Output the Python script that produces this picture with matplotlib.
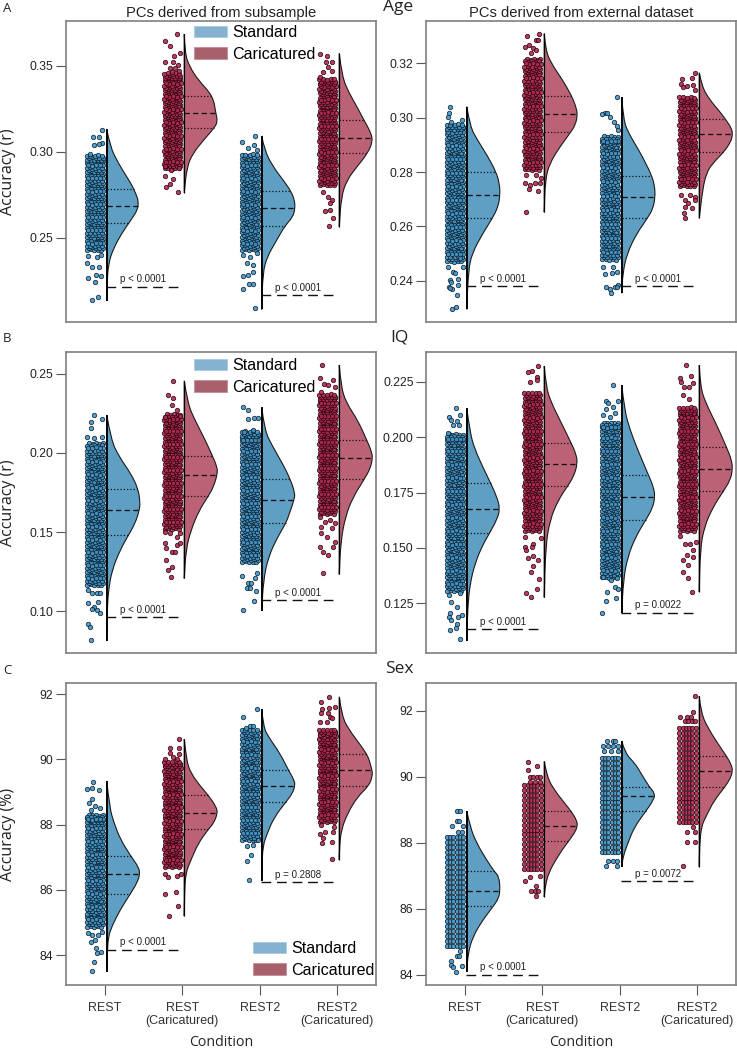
import numpy as np
import matplotlib
matplotlib.use("Agg")
import matplotlib.pyplot as plt
from matplotlib.patches import Patch, PathPatch
from matplotlib.path import Path

plt.rcParams["font.family"] = ["Liberation Sans", "DejaVu Sans"]

conditions = ["REST", "REST\n(Caricatured)", "REST2", "REST2\n(Caricatured)"]

# ------------------------------------------------------------
# Values, one list per condition
#   *_dens_y / *_dens_w : outline of the half violin (value, share of peak)
#   *_q                 : lower quartile, median, upper quartile
#   *_core              : levels of the packed part of the point cloud
#   *_out               : single points (place across the cloud, value)
# ------------------------------------------------------------

# Age, PCs from subsample
age_sub_dens_y = [
    [.3131, .3030, .2933, .2855, .2781, .2684, .2587, .2525, .2437, .2350, .2233, .2132],
    [.3685, .3574, .3496, .3418, .3325, .3224, .3176, .3139, .3069, .2991, .2913, .2762],
    [.3092, .3010, .2913, .2836, .2770, .2719, .2674, .2622, .2568, .2486, .2389, .2292, .2082],
    [.3574, .3438, .3341, .3263, .3185, .3108, .3059, .2991, .2913, .2836, .2739, .2564],
]
age_sub_dens_w = [
    [0, .1, .35, .6, .83, 1, .67, .45, .2, .05, .01, 0],
    [0, .02, .16, .42, .86, .95, 1, .9, .58, .26, .08, 0],
    [0, .08, .34, .64, .88, .98, 1, .94, .69, .45, .16, .03, 0],
    [0, .08, .3, .53, .74, .96, 1, .85, .53, .23, .06, 0],
]
age_sub_q = [[.2587, .2684, .2781], [.3139, .3224, .3325], [.2568, .2674, .2770], [.2991, .3078, .3185]]
age_sub_core = [
    [.2441, .2480, .2516, .2557, .2593, .2633, .2668, .2708, .2744, .2784, .2820, .2860, .2896, .2934, .2965],
    [.2918, .2955, .2995, .3031, .3071, .3107, .3146, .3183, .3222, .3259, .3298, .3335, .3373, .3410, .3443],
    [.2443, .2479, .2519, .2555, .2595, .2630, .2670, .2706, .2746, .2782, .2822, .2858, .2898, .2935, .2971],
    [.2820, .2857, .2897, .2934, .2973, .3010, .3050, .3087, .3126, .3163, .3203, .3240, .3279, .3316, .3356, .3393, .3410],
]
age_sub_out = [
    [(.92, .3127), (.35, .3084), (.73, .3088), (.92, .3053), (.44, .3040), (.75, .3045), (.19, .2987),
     (.08, .2393), (.6, .2385), (.88, .2399), (.02, .2350), (.3, .2327), (.75, .2331), (.08, .2263),
     (.54, .2282), (.85, .2276), (.5, .2243), (.3, .2138), (.71, .2152)],
    [(.79, .3686), (.02, .3646), (.33, .3618), (.58, .3558), (.96, .3574), (.06, .3525), (.33, .3486),
     (.54, .3525), (.85, .3506), (.65, .3486), (.92, .3473), (.44, .3467),
     (.06, .2919), (.38, .2894), (.92, .2904), (.02, .2859), (.5, .2841), (.33, .2812), (.12, .2795), (.85, .2766)],
    [(.02, .3059), (.35, .3020), (.81, .3092), (.77, .3038), (.92, .3011), (.08, .2399), (.5, .2389),
     (.92, .2408), (.29, .2350), (.71, .2340), (.08, .2278), (.4, .2282), (.65, .2301), (.46, .2233),
     (.08, .2202), (.71, .2230), (.81, .2088)],
    [(.02, .3570), (.48, .3560), (.4, .3525), (.75, .3521), (.54, .3496), (.75, .3473), (.23, .3467), (.06, .3438),
     (.54, .2739), (.75, .2719), (.65, .2700), (.33, .2657), (.65, .2661), (.81, .2612), (.58, .2568), (.23, .2768)],
]

# Age, PCs from external dataset
age_ext_dens_y = [
    [.3041, .2967, .2918, .2856, .2800, .2758, .2717, .2672, .2630, .2574, .2501, .2439, .2295],
    [.3310, .3249, .3200, .3139, .3081, .3041, .3010, .2973, .2946, .2893, .2832, .2771, .2652],
    [.3075, .2991, .2942, .2881, .2832, .2787, .2746, .2708, .2666, .2630, .2574, .2501, .2427, .2354],
    [.3166, .3114, .3065, .3028, .2994, .2961, .2939, .2912, .2874, .2832, .2795, .2734, .2630],
]
age_ext_dens_w = [
    [0, .1, .32, .64, .88, .98, 1, .94, .77, .48, .16, .05, 0],
    [0, .04, .21, .55, .82, .95, 1, .93, .79, .47, .16, .03, 0],
    [0, .05, .21, .51, .72, .9, .99, 1, .94, .77, .45, .16, .03, 0],
    [0, .08, .32, .58, .79, .97, 1, .95, .74, .4, .21, .1, 0],
]
age_ext_q = [[.2630, .2717, .2800], [.2946, .3012, .3081], [.2630, .2708, .2787], [.2874, .2939, .2994]]
age_ext_core = [
    [.2480, .2506, .2530, .2556, .2581, .2605, .2631, .2656, .2681, .2705, .2731, .2755, .2781, .2805, .2831, .2856, .2880, .2906, .2931, .2955, .2966],
    [.2818, .2844, .2870, .2895, .2921, .2947, .2973, .2998, .3025, .3050, .3077, .3102, .3128, .3155, .3181, .3207],
    [.2487, .2513, .2539, .2565, .2590, .2617, .2642, .2669, .2694, .2721, .2746, .2773, .2798, .2825, .2850, .2877, .2902, .2922],
    [.2757, .2783, .2809, .2835, .2860, .2887, .2912, .2939, .2964, .2991, .3016, .3043, .3067],
]
age_ext_out = [
    [(.19, .3041), (.12, .3016), (.08, .3001), (.94, .2991), (.23, .2985), (.08, .2452), (.79, .2482), (.38, .2433),
     (.96, .2452), (.17, .2403), (.27, .2396), (.69, .2405), (.12, .2378), (.69, .2384), (.33, .2368), (.17, .2372),
     (.62, .2347), (.31, .2295), (.58, .2302), (.48, .2427)],
    [(.17, .3301), (.92, .3308), (.69, .3288), (.85, .3288), (.02, .3261), (.27, .3267), (.54, .3255), (.71, .3249),
     (.4, .3239), (.12, .2789), (.69, .2789), (1, .2777), (.02, .2758), (.33, .2752), (.96, .2758), (.65, .2758),
     (.27, .2736), (.85, .2731), (.08, .2654)],
    [(.92, .3075), (.17, .3018), (.31, .3016), (.02, .3014), (.48, .3001), (.75, .2985), (.9, .2969), (1, .2955),
     (.06, .2452), (.69, .2452), (.17, .2425), (.94, .2433), (.62, .2427), (.23, .2376), (.52, .2368), (.79, .2378),
     (1, .2384), (.56, .2353), (.9, .2376)],
    [(.17, .3141), (.96, .3166), (.12, .3126), (.75, .3148), (.85, .3120), (.44, .3117), (.96, .3102), (.23, .3112),
     (.12, .2715), (.65, .2715), (.96, .2710), (.33, .2697), (.96, .2697), (.54, .2685), (.33, .2672), (.75, .2666),
     (.27, .2648), (.33, .2630)],
]

# IQ, PCs from subsample
iq_sub_dens_y = [
    [.2239, .2081, .1976, .1871, .1774, .1692, .1639, .1555, .1484, .1387, .1261, .1134, .0987, .0814],
    [.2456, .2313, .2207, .2102, .1980, .1913, .1871, .1787, .1730, .1639, .1513, .1387, .1208],
    [.2287, .2144, .2039, .1934, .1837, .1745, .1705, .1629, .1559, .1471, .1345, .1197, .1004],
    [.2555, .2418, .2313, .2208, .2079, .2008, .1965, .1902, .1833, .1724, .1597, .1429, .1233],
]
iq_sub_dens_w = [
    [0, .13, .37, .72, .94, 1, .98, .85, .66, .4, .16, .05, .01, 0],
    [0, .1, .32, .58, .85, .98, 1, .88, .73, .45, .2, .05, 0],
    [0, .08, .33, .62, .85, 1, .97, .85, .73, .48, .2, .05, 0],
    [0, .05, .22, .55, .83, .97, 1, .93, .75, .42, .18, .04, 0],
]
iq_sub_q = [[.1484, .1639, .1774], [.1730, .1860, .1980], [.1559, .1705, .1837], [.1833, .1965, .2079]]
iq_sub_core = [
    [.1180, .1222, .1263, .1304, .1344, .1386, .1427, .1468, .1508, .1550, .1591, .1632, .1672, .1714, .1755, .1796, .1836, .1878, .1919, .1960, .2000, .2046],
    [.1536, .1578, .1619, .1660, .1700, .1742, .1783, .1824, .1864, .1906, .1947, .1988, .2028, .2070, .2111, .2152, .2192, .2227],
    [.1326, .1368, .1409, .1450, .1490, .1532, .1573, .1614, .1654, .1696, .1737, .1778, .1818, .1860, .1901, .1942, .1982, .2024, .2065, .2095, .2121],
    [.1631, .1673, .1714, .1755, .1795, .1837, .1878, .1919, .1959, .2001, .2042, .2083, .2123, .2165, .2206, .2247, .2287, .2329, .2353],
]
iq_sub_out = [
    [(.46, .2239), (.92, .2216), (.23, .2193), (.25, .2155), (.02, .2102), (.46, .2092), (.92, .2098), (.06, .1134),
     (.29, .1113), (.6, .1113), (.81, .1113), (.08, .1054), (.67, .1061), (.46, .1029), (.29, .1012), (.6, .1008),
     (.81, .0991), (.08, .0920), (.19, .0899), (.25, .0819)],
    [(.54, .2454), (.23, .2363), (.54, .2344), (.48, .2302), (.75, .2271), (.06, .2224), (.96, .2233), (.02, .1503),
     (.96, .1492), (.33, .1492), (.75, .1471), (.06, .1429), (.75, .1418), (.12, .1397), (.96, .1429), (.44, .1376),
     (.65, .1376), (.08, .1324), (.19, .1261), (.48, .1282), (.4, .1214)],
    [(.08, .2287), (.35, .2271), (.35, .2212), (.75, .2218), (1, .2222), (.15, .2134), (.71, .2144), (.02, .1225),
     (.92, .1239), (.4, .1176), (.54, .1176), (.81, .1208), (.29, .1145), (.88, .1130), (.5, .1145), (.75, .1067), (.04, .1008)],
    [(.15, .2555), (.06, .2471), (.29, .2433), (.54, .2429), (.81, .2460), (.96, .2418), (.12, .2386), (.06, .1593),
     (.65, .1576), (.96, .1555), (.33, .1566), (.12, .1534), (.75, .1524), (.12, .1492), (.44, .1467), (.96, .1439),
     (.02, .1408), (.85, .1404), (.23, .1376), (.5, .1355), (.23, .1239)],
]

# IQ, PCs from external dataset
iq_ext_dens_y = [
    [.2130, .2017, .1942, .1866, .1791, .1731, .1677, .1626, .1566, .1505, .1430, .1340, .1235, .1081],
    [.2321, .2227, .2152, .2062, .1975, .1926, .1881, .1821, .1779, .1716, .1626, .1505, .1277],
    [.2235, .2122, .2032, .1942, .1829, .1776, .1731, .1678, .1626, .1551, .1461, .1356, .1208],
    [.2325, .2227, .2152, .2062, .1954, .1897, .1854, .1806, .1755, .1686, .1596, .1491, .1302],
]
iq_ext_dens_w = [
    [0, .1, .25, .48, .72, .9, 1, .9, .68, .45, .25, .1, .03, 0],
    [0, .05, .22, .52, .8, .95, 1, .88, .7, .42, .17, .04, 0],
    [0, .08, .25, .48, .8, .95, 1, .92, .72, .42, .18, .05, 0],
    [0, .03, .2, .5, .82, .97, 1, .93, .72, .42, .15, .03, 0],
]
iq_ext_q = [[.1566, .1677, .1791], [.1779, .1880, .1975], [.1626, .1728, .1829], [.1755, .1854, .1954]]
iq_ext_core = [
    [.1318, .1348, .1378, .1407, .1438, .1467, .1498, .1527, .1558, .1587, .1618, .1647, .1678, .1707, .1738, .1767, .1798, .1827, .1858, .1887, .1918, .1947, .1978, .2001],
    [.1589, .1619, .1649, .1678, .1709, .1738, .1769, .1798, .1829, .1858, .1889, .1918, .1949, .1978, .2009, .2038, .2069, .2098, .2129, .2158, .2189],
    [.1378, .1408, .1438, .1467, .1498, .1527, .1558, .1587, .1618, .1647, .1678, .1707, .1738, .1767, .1798, .1827, .1858, .1887, .1918, .1947, .1978, .2007, .2038, .2054],
    [.1589, .1619, .1649, .1678, .1709, .1738, .1769, .1798, .1829, .1858, .1889, .1918, .1949, .1978, .2009, .2038, .2069, .2098, .2122],
]
iq_ext_out = [
    [(.54, .2130), (.1, .2089), (.83, .2100), (.27, .2077), (.63, .2074), (.38, .2054), (.75, .2054), (.06, .2017),
     (.12, .1287), (.79, .1295), (.23, .1257), (.63, .1235), (.17, .1205), (.1, .1190), (.69, .1190), (.94, .1197),
     (.23, .1174), (.63, .1159), (.21, .1132), (.54, .1137), (.83, .1087)],
    [(.23, .2295), (.85, .2321), (.44, .2300), (.33, .2250), (.75, .2273), (.75, .2258), (.02, .1551), (1, .1543),
     (.54, .1520), (.02, .1505), (.12, .1490), (.48, .1502), (.23, .1453), (.54, .1463), (.81, .1445), (.5, .1418),
     (.4, .1390), (.92, .1358), (.75, .1317), (.08, .1295), (.4, .1280)],
    [(.65, .2233), (.23, .2164), (1, .2163), (.38, .2152), (.69, .2137), (.23, .2125), (.06, .2100), (.79, .2108),
     (.48, .2089), (.06, .1370), (.9, .1363), (.58, .1355), (.31, .1302), (.79, .1325), (.96, .1317), (.85, .1272),
     (.23, .1262), (.02, .1205)],
    [(.4, .2325), (.06, .2265), (.71, .2277), (.12, .2247), (.6, .2227), (.85, .2242), (.27, .2227), (.23, .2190),
     (.6, .2172), (.06, .1554), (1, .1528), (.33, .1520), (.65, .1520), (.85, .1490), (.48, .1468), (.85, .1460),
     (.23, .1445), (.54, .1423), (.23, .1393), (.5, .1363), (.75, .1302)],
]

# Sex, PCs from subsample
sex_sub_dens_y = [
    [89.34, 88.55, 88.04, 87.53, 87.04, 86.71, 86.49, 86.20, 85.87, 85.39, 84.88, 84.57, 84.16, 83.50],
    [90.62, 89.98, 89.57, 89.16, 88.9, 88.55, 88.35, 88.04, 87.86, 87.43, 86.92, 86.51, 85.9, 85.2],
    [91.53, 91.0, 90.69, 90.18, 89.67, 89.37, 89.2, 88.96, 88.7, 88.24, 87.73, 87.33, 86.71, 86.29],
    [91.92, 91.31, 90.9, 90.49, 90.17, 89.98, 89.68, 89.52, 89.2, 88.86, 88.35, 87.84, 87.33, 86.92],
]
sex_sub_dens_w = [
    [0, .08, .22, .42, .72, .95, 1, .9, .7, .4, .15, .05, .02, 0],
    [0, .06, .2, .5, .72, .96, 1, .88, .72, .42, .2, .04, .01, 0],
    [0, .05, .2, .55, .8, .97, 1, .92, .73, .38, .16, .03, .01, 0],
    [0, .08, .3, .6, .82, .9, .98, 1, .9, .55, .25, .06, .01, 0],
]
sex_sub_q = [[85.87, 86.49, 87.04], [87.86, 88.35, 88.9], [88.7, 89.2, 89.67], [89.2, 89.68, 90.17]]
sex_sub_core = [
    [84.95, 85.16, 85.35, 85.56, 85.75, 85.96, 86.15, 86.36, 86.55, 86.76, 86.95, 87.16, 87.35, 87.56, 87.75, 87.96, 88.15, 88.23],
    [86.78, 86.99, 87.18, 87.39, 87.58, 87.79, 87.98, 88.19, 88.38, 88.59, 88.78, 88.99, 89.18, 89.39, 89.58, 89.79, 89.86],
    [87.6, 87.81, 88.0, 88.21, 88.4, 88.61, 88.8, 89.01, 89.2, 89.41, 89.6, 89.81, 90.0, 90.21, 90.4, 90.61, 90.83],
    [88.16, 88.37, 88.56, 88.77, 88.96, 89.17, 89.36, 89.57, 89.76, 89.97, 90.16, 90.37, 90.56, 90.77, 90.83],
]
sex_sub_out = [
    [(.4, 89.32), (.02, 89.08), (.29, 89.11), (.77, 89.06), (.33, 88.78), (.15, 88.65), (.5, 88.57), (.81, 88.5),
     (.23, 88.45), (.08, 84.67), (.29, 84.62), (.92, 84.72), (.71, 84.62), (.5, 84.47), (.23, 84.4), (.56, 84.21),
     (.6, 84.08), (.85, 84.11), (.44, 83.78), (.33, 83.51)],
    [(.9, 90.62), (.33, 90.34), (.33, 90.2), (.9, 90.34), (.9, 90.18), (.06, 90.0), (.54, 90.06), (.75, 90.01),
     (.06, 86.49), (.23, 86.39), (.75, 86.43), (1, 86.49), (.06, 85.87), (.71, 85.95), (.85, 85.52), (.27, 85.2)],
    [(.94, 91.53), (.04, 91.31), (.25, 90.95), (.5, 91.03), (.71, 91.02), (.29, 87.35), (.71, 87.38), (1, 87.53),
     (.54, 87.07), (.29, 86.9), (.46, 86.32)],
    [(.6, 91.92), (.12, 91.77), (.96, 91.61), (.17, 91.54), (.58, 91.58), (.12, 91.41), (.54, 91.43), (.65, 91.31),
     (.79, 91.26), (.06, 91.15), (.44, 91.15), (.08, 87.99), (.92, 87.94), (.02, 87.73), (.33, 87.79), (.85, 87.79),
     (.23, 87.58), (.75, 87.48), (.17, 87.45), (.79, 86.94)],
]

# Sex, PCs from external dataset (the values fall on rows here)
sex_ext_dens_y = [
    [88.96, 88.48, 87.98, 87.47, 87.14, 86.97, 86.55, 86.31, 86.08, 85.66, 85.15, 84.65, 84.09],
    [90.47, 90.0, 89.6, 89.19, 88.96, 88.69, 88.5, 88.28, 88.04, 87.58, 87.07, 86.66, 86.36],
    [91.08, 90.71, 90.4, 90.1, 89.7, 89.49, 89.29, 88.95, 88.48, 87.98, 87.58, 87.27],
    [92.44, 91.92, 91.41, 90.91, 90.62, 90.35, 90.16, 89.95, 89.7, 89.29, 88.79, 88.49, 87.88, 87.27],
]
sex_ext_dens_w = [
    [0, .1, .3, .6, .82, .97, 1, .95, .8, .48, .18, .04, 0],
    [0, .08, .3, .62, .8, .97, 1, .9, .72, .4, .12, .03, 0],
    [0, .1, .4, .58, .82, 1, .95, .72, .38, .18, .04, 0],
    [0, .05, .3, .62, .82, .97, 1, .93, .78, .45, .2, .06, .01, 0],
]
sex_ext_q = [[86.08, 86.55, 87.14], [88.04, 88.5, 88.96], [88.95, 89.41, 89.7], [89.7, 90.16, 90.62]]
sex_ext_core = [
    [84.87, 85.02, 85.17, 85.32, 85.47, 85.62, 85.77, 85.92, 86.07, 86.22, 86.37, 86.52, 86.67, 86.82, 86.97, 87.12, 87.27, 87.42, 87.57, 87.72, 87.87, 88.02, 88.17],
    [87.2, 87.35, 87.5, 87.65, 87.8, 87.95, 88.1, 88.25, 88.4, 88.55, 88.7, 88.85, 89.0, 89.15, 89.3, 89.45, 89.6, 89.75],
    [87.72, 87.87, 88.02, 88.17, 88.32, 88.47, 88.62, 88.77, 88.92, 89.07, 89.22, 89.37, 89.52, 89.67, 89.82, 89.97, 90.12, 90.27, 90.42, 90.57],
    [88.62, 88.77, 88.92, 89.07, 89.22, 89.37, 89.52, 89.67, 89.82, 89.97, 90.12, 90.27, 90.42, 90.57, 90.72, 90.87, 91.02, 91.17, 91.32, 91.47],
]
sex_ext_out = [
    [(.63, 88.96), (.79, 88.96), (.29, 88.5), (.63, 88.66), (.75, 88.66), (.96, 88.5), (.9, 88.33), (.69, 88.33),
     (.79, 84.72), (.63, 84.57), (.75, 84.57), (.23, 84.41), (.27, 84.29), (.38, 84.24), (.94, 84.26), (.58, 84.09)],
    [(.19, 90.46), (.75, 90.32), (.19, 90.2), (.33, 90.0), (.54, 90), (.75, 90), (.96, 90), (.33, 89.85), (.65, 89.85),
     (.96, 89.85), (.02, 86.85), (.33, 86.97), (.96, 86.99), (.69, 86.7), (.4, 86.55), (.65, 86.55), (.85, 86.55), (.69, 86.38)],
    [(.33, 91.08), (.69, 91.08), (.83, 91.08), (.06, 90.93), (1, 90.93), (.38, 90.93), (.69, 90.93), (.13, 90.79),
     (.58, 90.79), (1, 90.79), (.38, 87.44), (.69, 87.44), (.94, 87.44), (.23, 87.29), (.9, 87.29)],
    [(.98, 92.44), (.85, 91.97), (.06, 91.82), (.44, 91.82), (.69, 91.82), (.33, 91.69), (.54, 91.69), (.75, 91.69),
     (.96, 91.69), (.85, 88.49), (.96, 88.33), (.44, 88.33), (.48, 88.03), (.96, 88.03), (.19, 87.29)],
]

# comparison brackets: value level and label, REST pair then REST2 pair
age_sub_p = [.2214, .2166]
age_ext_p = [.2380, .2380]
iq_sub_p = [.0964, .1071]
iq_ext_p = [.1134, .1208]
sex_sub_p = [84.17, 86.23]
sex_ext_p = [84.0, 86.83]
age_sub_p_text = ["p < 0.0001", "p < 0.0001"]
age_ext_p_text = ["p < 0.0001", "p < 0.0001"]
iq_sub_p_text = ["p < 0.0001", "p < 0.0001"]
iq_ext_p_text = ["p < 0.0001", "p = 0.0022"]
sex_sub_p_text = ["p < 0.0001", "p = 0.2808"]
sex_ext_p_text = ["p < 0.0001", "p = 0.0072"]

age_sub_ticks = [.25, .30, .35]
age_ext_ticks = [.24, .26, .28, .30, .32]
iq_sub_ticks = [.10, .15, .20, .25]
iq_ext_ticks = [.125, .150, .175, .200, .225]
sex_ticks = [84, 86, 88, 90, 92]

# ------------------------------------------------------------
# Styles and layout
# ------------------------------------------------------------
W, H = 737, 1049
BLUE_FILL, RED_FILL = "#5E9FC3", "#BC6276"
BLUE_DOT, RED_DOT = "#3F97CC", "#B5264E"
BLUE_EDGE, RED_EDGE = "#12222E", "#2A0A14"
BLUE_LEG, RED_LEG = "#85B3CF", "#A9606D"
SPINE = "#7F7F7F"
LABEL_FONT = ["Open Sans", "DejaVu Sans"]

# the packed part of a cloud is too dense to read point by point, so a fixed
# patch of places is laid on each core level (across 0-1, up/down in +-1)
patch_a = [(.02, -.7), (.23, -.5), (.44, -.8), (.66, -.55), (.87, -.75),
           (.1, -.05), (.33, .12), (.55, -.12), (.76, .06), (.98, -.02),
           (.0, .62), (.21, .7), (.47, .55), (.7, .78), (.91, .6)]
row_x = [0, .2, .4, .6, .8, 1]


def fig_xy(px, py):
    return px / W, 1 - py / H


def half_violin(ax, pos, dens_y, dens_w, q, fill, base_lw):
    # outline as quadratic curves through the read knots
    ys = np.array(dens_y)
    ws = np.array(dens_w) * 0.43
    base = pos + 0.026
    pts = np.column_stack([base + ws, ys])
    verts, codes = [pts[0]], [Path.MOVETO]
    for i in range(1, len(pts) - 1):
        verts += [pts[i], (pts[i] + pts[i + 1]) / 2]
        codes += [Path.CURVE3, Path.CURVE3]
    verts += [pts[-1], pts[0]]
    codes += [Path.LINETO, Path.CLOSEPOLY]
    outline = Path(verts, codes)
    ax.add_patch(PathPatch(outline, facecolor=fill, edgecolor="#1A1A1A", lw=0.8, zorder=2))
    ax.plot([base, base], [ys[-1], ys[0]], color="black", lw=base_lw, zorder=4, solid_capstyle="butt")
    # quartile lines stop at the drawn curve
    flat = outline.to_polygons(closed_only=False)[0][:-1]
    flat = flat[np.argsort(flat[:, 1])]
    for value, style, lw in zip(q, [(0, (1, 1.6)), (0, (4, 2.5)), (0, (1, 1.6))], [0.9, 0.95, 0.9]):
        end = np.interp(value, flat[:, 1], flat[:, 0])
        ax.plot([base, end], [value, value], color="#111111", lw=lw, linestyle=style, zorder=3)


def cloud(ax, pos, core, out, dot, edge, px_y, grid):
    left, span = pos - 0.23, 0.21
    xs, ys = [], []
    for k, level in enumerate(core):
        if grid:
            places = [(fx, 0) for fx in row_x]
        elif k % 2:
            places = [(1 - fx, -fy) for fx, fy in patch_a]
        else:
            places = patch_a
        for fx, fy in places:
            xs.append(left + fx * span)
            ys.append(level + fy * 3.3 * px_y)
    for fx, value in out:
        xs.append(left + fx * span)
        ys.append(value)
    ax.scatter(xs, ys, s=10, facecolor=dot, edgecolor=edge, linewidth=0.6, alpha=0.9, zorder=3, clip_on=False)


panels = [
    ("age_sub", (66, 20.5, 376, 322), (.2009, .3765), age_sub_dens_y, age_sub_dens_w, age_sub_q, age_sub_core, age_sub_out, age_sub_p, age_sub_p_text, age_sub_ticks, "%.2f"),
    ("age_ext", (426, 20.5, 736, 322), (.2248, .3358), age_ext_dens_y, age_ext_dens_w, age_ext_q, age_ext_core, age_ext_out, age_ext_p, age_ext_p_text, age_ext_ticks, "%.2f"),
    ("iq_sub", (66, 352, 376, 653), (.0737, .2637), iq_sub_dens_y, iq_sub_dens_w, iq_sub_q, iq_sub_core, iq_sub_out, iq_sub_p, iq_sub_p_text, iq_sub_ticks, "%.2f"),
    ("iq_ext", (426, 352, 736, 653), (.1026, .2384), iq_ext_dens_y, iq_ext_dens_w, iq_ext_q, iq_ext_core, iq_ext_out, iq_ext_p, iq_ext_p_text, iq_ext_ticks, "%.3f"),
    ("sex_sub", (66, 683, 376, 985), (83.09, 92.34), sex_sub_dens_y, sex_sub_dens_w, sex_sub_q, sex_sub_core, sex_sub_out, sex_sub_p, sex_sub_p_text, sex_ticks, "%d"),
    ("sex_ext", (426, 683, 736, 985), (83.69, 92.84), sex_ext_dens_y, sex_ext_dens_w, sex_ext_q, sex_ext_core, sex_ext_out, sex_ext_p, sex_ext_p_text, sex_ticks, "%d"),
]

fig = plt.figure(figsize=(W / 100, H / 100), dpi=100)
axes = {}

for name, box, ylim, dens_y, dens_w, q, core, out, p_y, p_text, ticks, fmt in panels:
    x0, y0, x1, y1 = box
    ax = fig.add_axes([x0 / W, 1 - y1 / H, (x1 - x0) / W, (y1 - y0) / H])
    axes[name] = ax
    ax.set_xlim(0.5, 4.5)
    ax.set_ylim(*ylim)
    px_y = (ylim[1] - ylim[0]) / (y1 - y0)

    for i in range(4):
        pos = i + 1
        fill = BLUE_FILL if i % 2 == 0 else RED_FILL
        dot = BLUE_DOT if i % 2 == 0 else RED_DOT
        edge = BLUE_EDGE if i % 2 == 0 else RED_EDGE
        base_lw = 1.3 if i % 2 == 0 else 0.9
        cloud(ax, pos, core[i], out[i], dot, edge, px_y, name == "sex_ext")
        half_violin(ax, pos, dens_y[i], dens_w[i], q[i], fill, base_lw)

    for pos, level, label in zip([1, 3], p_y, p_text):
        ax.plot([pos + 0.02, pos + 0.96], [level, level], color="#111111", lw=1.0,
                linestyle=(0, (7, 4.2)), zorder=5)
        ax.text(pos + 0.50, level + 2.5 * px_y, label, ha="center", va="bottom", fontsize=7, color="#222222")

    ax.set_yticks(ticks)
    ax.set_yticklabels([fmt % t for t in ticks], fontsize=8.8, color="#222222")
    ax.tick_params(axis="y", length=7, width=0.8, color="#555555", pad=2)
    if name.startswith("sex"):
        ax.set_xticks([1, 2, 3, 4])
        ax.set_xticklabels(conditions, fontsize=9, color="#333333", linespacing=1.1)
        ax.tick_params(axis="x", length=7, width=0.8, color="#555555", pad=5)
    else:
        ax.set_xticks([])
    for spine in ax.spines.values():
        spine.set_color(SPINE)
        spine.set_linewidth(1.2)

# legends
handles = [Patch(facecolor=BLUE_LEG, edgecolor="#A9CBE0", lw=0.6, label="Standard"),
           Patch(facecolor=RED_LEG, edgecolor="#C98C98", lw=0.6, label="Caricatured")]
for name, anchor in [("age_sub", (0.413, 0.985)), ("iq_sub", (0.413, 0.98)), ("sex_sub", (0.603, 0.145))]:
    axes[name].legend(handles=handles, loc="upper left", bbox_to_anchor=anchor, frameon=False, fontsize=11.6,
                      borderpad=0, borderaxespad=0, handlelength=2.06, handleheight=0.75,
                      handletextpad=0.33, labelspacing=0.42)

# figure text
for label, px, py in [("A", 7, 8), ("B", 7, 338), ("C", 7, 670)]:
    fig.text(*fig_xy(px, py), label, ha="center", va="center", fontsize=9.5, family=LABEL_FONT, color="#222222")
for label, px, py in [("Age", 398, 7), ("IQ", 399, 338), ("Sex", 399, 669)]:
    fig.text(*fig_xy(px, py), label, ha="center", va="center", fontsize=12.5, family=LABEL_FONT, color="#222222")
for label, px in [("PCs derived from subsample", 221), ("PCs derived from external dataset", 581)]:
    fig.text(*fig_xy(px, 13), label, ha="center", va="center", fontsize=10.6, color="#222222")
for label, py in [("Accuracy (r)", 172), ("Accuracy (r)", 503), ("Accuracy (%)", 834)]:
    fig.text(*fig_xy(8, py), label, ha="center", va="center", rotation=90, fontsize=11.5, family=LABEL_FONT, color="#222222")
for px in [221, 581]:
    fig.text(*fig_xy(px, 1042), "Condition", ha="center", va="center", fontsize=10.2, family=LABEL_FONT, color="#222222")

fig.savefig("out.png", dpi=100)
